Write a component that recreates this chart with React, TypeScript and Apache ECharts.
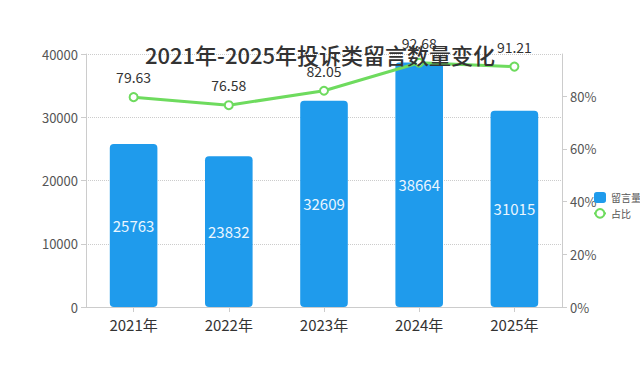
import React, { useEffect, useRef } from "react";
import * as echarts from "echarts";

const categories = ["2021年", "2022年", "2023年", "2024年", "2025年"];
const messageCounts = [25763, 23832, 32609, 38664, 31015];
const ratios = [79.63, 76.58, 82.05, 92.68, 91.21];

const FONT = "'Noto Sans CJK SC', 'Noto Sans', sans-serif";

export default function App() {
  const ref = useRef<HTMLDivElement>(null);
  useEffect(() => {
    if (!ref.current) return;
    const chart = echarts.init(ref.current, undefined, { renderer: "svg" });
    chart.setOption({
      animation: false,
      backgroundColor: "#ffffff",
      textStyle: { fontFamily: FONT },
      title: {
        text: "2021年-2025年投诉类留言数量变化",
        left: "center",
        top: 38,
        textStyle: { fontSize: 22, fontWeight: 500, color: "#333", fontFamily: FONT },
      },
      legend: {
        orient: "vertical",
        left: 588,
        top: 187,
        itemWidth: 12,
        itemHeight: 11,
        itemGap: 5,
        textStyle: { fontSize: 10, color: "#555", fontFamily: FONT },
        data: [
          { name: "留言量", icon: "roundRect" },
          { name: "占比" },
        ],
      },
      grid: { left: 86, right: 78, top: 54, bottom: 59, containLabel: false },
      xAxis: {
        type: "category",
        data: categories,
        axisLine: { show: true, lineStyle: { color: "#ccc" } },
        axisTick: { show: true, alignWithLabel: true, lineStyle: { color: "#ccc" } },
        axisLabel: { fontSize: 15, color: "#333", margin: 10, fontFamily: FONT },
      },
      yAxis: [
        {
          type: "value",
          min: 0,
          max: 40000,
          interval: 10000,
          axisLine: { show: true, lineStyle: { color: "#ccc" } },
          axisTick: { show: true, lineStyle: { color: "#ccc" } },
          axisLabel: { fontSize: 13, color: "#555", fontFamily: FONT, formatter: (v: number) => String(v) },
          splitLine: { show: true, lineStyle: { type: "dotted", color: "#ccc" } },
        },
        {
          type: "value",
          min: 0,
          max: 96,
          interval: 20,
          axisLine: { show: true, lineStyle: { color: "#ccc" } },
          axisTick: { show: true, lineStyle: { color: "#ccc" } },
          axisLabel: { fontSize: 13, color: "#555", formatter: "{value}%", showMaxLabel: false, fontFamily: FONT },
          splitLine: { show: false },
        },
      ],
      series: [
        {
          name: "留言量",
          type: "bar",
          data: messageCounts,
          barWidth: "50%",
          itemStyle: { color: "#1f9bec", borderRadius: 4 },
          label: {
            show: true,
            position: "inside",
            color: "#eaf6ff",
            fontSize: 15,
            fontFamily: FONT,
          },
        },
        {
          name: "占比",
          type: "line",
          yAxisIndex: 1,
          data: ratios,
          symbol: "emptyCircle",
          symbolSize: 8,
          lineStyle: { color: "#6edb5e", width: 3 },
          itemStyle: { color: "#6edb5e", borderWidth: 2 },
          label: { show: true, position: "top", color: "#333", fontSize: 14, distance: 8, fontFamily: FONT },
        },
      ],
    });
    return () => chart.dispose();
  }, []);
  return <div ref={ref} style={{ width: 640, height: 366, position: "fixed", left: 0, top: 0 }} />;
}
